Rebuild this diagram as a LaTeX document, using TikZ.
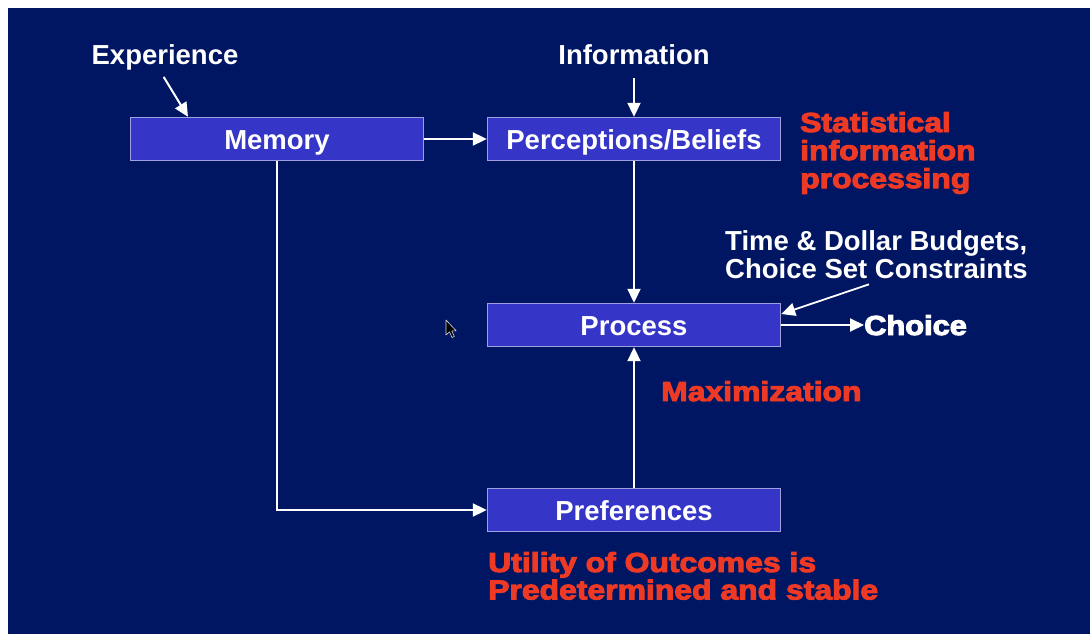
\documentclass[tikz,border=0pt]{standalone}
\usepackage{graphicx}
\usepackage{fontspec}
\setmainfont{Liberation Sans}
\newfontfamily\heavyfont[FakeBold=3.5]{Liberation Sans Bold}
\usetikzlibrary{arrows.meta}

\definecolor{navy}{RGB}{0,22,98}
\definecolor{boxfill}{RGB}{53,53,200}
\definecolor{boxrule}{RGB}{160,160,224}
\definecolor{accent}{RGB}{238,58,36}

% heavy annotation text, widened to a black-weight look
\newcommand{\heavylines}[2][1.16]{\scalebox{#1}[1]{\begin{tabular}[t]{@{}l@{}}#2\end{tabular}}}
\newcommand{\plainlines}[1]{\begin{tabular}[t]{@{}l@{}}#1\end{tabular}}

\begin{document}
\begin{tikzpicture}[x=1pt,y=-1pt,
  label font/.style={font=\fontsize{27.5}{27}\selectfont\bfseries},
  stage/.style={draw=boxrule, line width=1.4pt, fill=boxfill, text=white,
    minimum width=293pt, minimum height=43pt, inner sep=0pt,
    text height=20pt, text depth=0pt, label font},
  wtext/.style={text=white, inner sep=0pt, label font},
  rtext/.style={text=accent, inner sep=0pt, font=\fontsize{27.5}{27}\selectfont\heavyfont},
  conn/.style={draw=white, line width=2pt, -{Triangle[length=14pt,width=13pt]}}]

  % page and slide background
  \fill[white] (0,0) rectangle (1090,634);
  \fill[navy] (8,8) rectangle (1090,634);
  \useasboundingbox (0,0) rectangle (1090,634);

  % stages
  \node[stage] (mem)  at (277,139) {Memory};
  \node[stage] (perc) at (634,139) {Perceptions/Beliefs};
  \node[stage] (proc) at (634,325) {Process};
  \node[stage] (pref) at (634,510) {Preferences};

  % white labels
  \node[wtext, anchor=base] (exp)  at (165,65) {Experience};
  \node[wtext, anchor=base] (info) at (634,65) {Information};
  \node[rtext, text=white, anchor=base west] (choice) at (864,335) {\heavylines[1.12]{Choice}};
  \node[wtext, anchor=base west] (budget) at (725,250)
    {\plainlines{Time \& Dollar Budgets,\\Choice Set Constraints}};

  % red annotations
  \node[rtext, anchor=base west] (stat) at (800,132)
    {\heavylines{Statistical\\information\\processing}};
  \node[rtext, anchor=base west] (maxi) at (661,401)
    {\heavylines{Maximization}};
  \node[rtext, font=\fontsize{27.5}{25}\selectfont\heavyfont, anchor=base west] (util) at (488,572)
    {\heavylines{Utility of Outcomes is\\Predetermined and stable}};

  % connectors
  \draw[conn, shorten <=7pt] ([xshift=-5pt]exp.south) -- ([xshift=-89pt]mem.north);
  \draw[conn, shorten <=13pt] (info.south) -- (perc.north);
  \draw[conn] (mem) -- (perc);
  \draw[conn] (perc) -- (proc);
  \draw[conn] (pref) -- (proc);
  \draw[conn] (mem.south) |- (pref.west);
  \draw[conn] (proc.east) -- (proc.east -| choice.west);
  \draw[conn, line width=1.8pt] ([xshift=144pt,yshift=2pt]budget.south west) -- ([yshift=11pt]proc.east);

  % pointer
  \filldraw[fill=black, draw=white!85!navy, line width=0.6pt, line join=round]
    (446,320) -- (446,335) -- (449.5,331.8) -- (452,337.5) -- (454.3,336.5)
    -- (451.8,330.9) -- (456.2,330.9) -- cycle;
\end{tikzpicture}
\end{document}
